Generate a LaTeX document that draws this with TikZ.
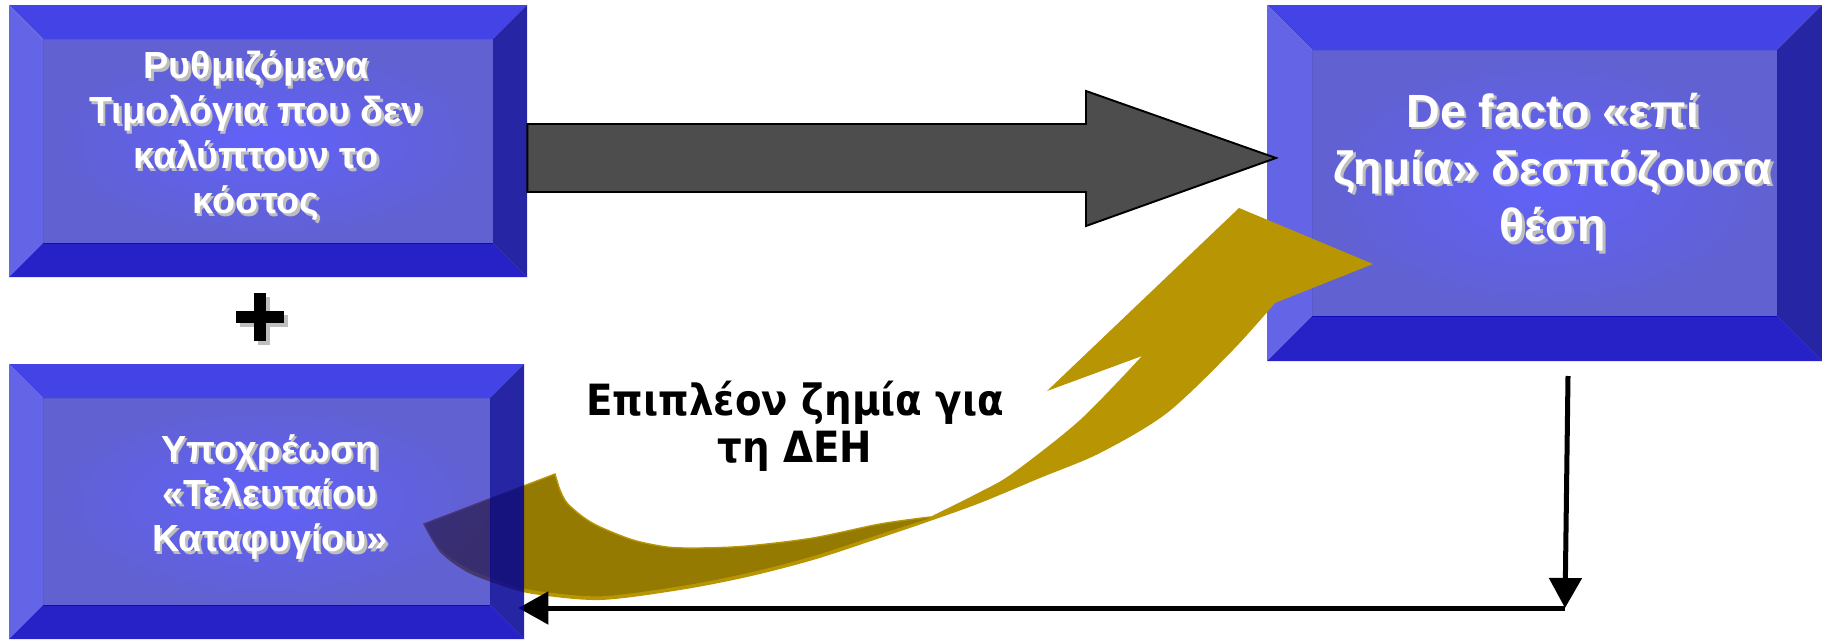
\documentclass[tikz,border=0pt]{standalone}
\usepackage{fontspec}
\setmainfont{Liberation Sans}
\newfontfamily\lossfont{DejaVu Sans Condensed}
\usetikzlibrary{arrows.meta}
\usetikzlibrary{calc}
\usetikzlibrary{fit}

\definecolor{bevtop}{RGB}{68,68,230}
\definecolor{bevleft}{RGB}{100,100,230}
\definecolor{bevbottom}{RGB}{38,34,200}
\definecolor{bevright}{RGB}{0,0,149}
\definecolor{facein}{RGB}{0,0,247}
\definecolor{faceout}{RGB}{0,0,180}
\definecolor{goldlight}{RGB}{184,149,3}
\definecolor{golddark}{RGB}{148,122,0}
\definecolor{arrowgray}{RGB}{77,77,77}
\definecolor{shadowgray}{RGB}{190,190,190}

\tikzset{
  labeltext/.style={text=white, align=center, inner sep=0pt},
  labelshadow/.style={text=shadowgray, align=center, inner sep=0pt},
  smallbox/.style={font=\bfseries\fontsize{21.5}{25.6}\selectfont},
  largebox/.style={font=\bfseries\fontsize{26.5}{32.6}\selectfont},
  bigarrow/.style={fill=arrowgray, draw=black, line width=1.1pt, line join=miter},
  flowline/.style={draw=black, line width=2.85pt, -{Triangle[length=0.6cm, width=0.64cm]}},
}

% bevelled box: name, x1, y1, x2, y2, bevel
\newcommand{\bevelbox}[6]{%
  \fill[bevtop] (#2,#3) -- (#4,#3) -- (#4-#6,#3+#6) -- (#2+#6,#3+#6) -- cycle;
  \fill[bevleft] (#2,#3) -- (#2+#6,#3+#6) -- (#2+#6,#5-#6) -- (#2,#5) -- cycle;
  \fill[bevbottom] (#2,#5) -- (#2+#6,#5-#6) -- (#4-#6,#5-#6) -- (#4,#5) -- cycle;
  \fill[bevright, fill opacity=0.85] (#4,#3) -- (#4,#5) -- (#4-#6,#5-#6) -- (#4-#6,#3+#6) -- cycle;
  \shade[fill opacity=0.62, inner color=facein, outer color=faceout]
    (#2+#6,#3+#6) rectangle (#4-#6,#5-#6);
  \node[fit={(#2,#3) (#4,#5)}, inner sep=0pt] (#1) {};
}

% white text with grey shadow: name, position, size style, text
\newcommand{\shadowlabel}[4]{%
  \node[labelshadow, #3] at ($#2+(2.5,2.5)$) {#4};
  \node[labeltext, #3] (#1) at #2 {#4};
}

\begin{document}
\begin{tikzpicture}[x=0.02cm, y=-0.02cm]
  \useasboundingbox (0,0) rectangle (1822,639);

  \bevelbox{tariffs}{9}{5}{527}{277}{34}
  \bevelbox{dominance}{1267}{5}{1822}{361}{45}

  % big grey arrow
  \coordinate (shafttop) at (0,124);
  \coordinate (shaftbot) at (0,192);
  \coordinate (gtip) at (1276,158);
  \draw[bigarrow] (tariffs.east |- shafttop) -- (1086,124) -- (1086,91) -- (gtip)
    -- (1086,226) -- (1086,192) -- (tariffs.east |- shaftbot) -- cycle;

  % plus
  \coordinate (plus) at (260,317);
  \fill[shadowgray] ($(plus)+(-6+4,-24+4)$) rectangle ($(plus)+(6+4,24+4)$);
  \fill[shadowgray] ($(plus)+(-24+4,-6+4)$) rectangle ($(plus)+(24+4,6+4)$);
  \fill[black] ($(plus)+(-6,-24)$) rectangle ($(plus)+(6,24)$);
  \fill[black] ($(plus)+(-24,-6)$) rectangle ($(plus)+(24,6)$);

  % curved gold arrow
  \fill[goldlight] (424,524) -- (555,474)
    -- plot[smooth] coordinates {(555,474) (560,490) (567,503) (583,517) (600,527) (633,540) (667,547) (700,548) (747,546) (813,538) (880,524) (930,517)}
    -- plot[smooth] coordinates {(930,517) (980,492) (1013,473) (1080,420) (1142,356)}
    -- (1047,391) -- (1239,208) -- (1373,264) -- (1275,303)
    -- plot[smooth] coordinates {(1275,303) (1233,350) (1167,413) (1100,453) (1040,478) (980,503) (930,521) (880,538) (813,560) (747,577) (680,590) (600,600) (533,594) (500,585) (467,572) (440,552) (424,524)}
    -- cycle;
  \filldraw[fill=golddark, draw=goldlight, line width=0.8pt] (424,524) -- (555,474)
    -- plot[smooth] coordinates {(555,474) (560,490) (567,503) (583,517) (600,527) (633,540) (667,547) (700,548) (747,546) (813,538) (880,524) (930,517)}
    -- plot[smooth] coordinates {(930,519) (880,535) (813,557) (747,574) (680,587) (600,597) (533,591) (500,582) (467,569) (440,550) (424,524)}
    -- cycle;

  % black return path
  \coordinate (drop) at (1568,376);
  \coordinate (corner) at (1565,608);
  \draw[flowline] (drop) -- (corner);
  \draw[flowline] (corner) -- ($(tariffs.east |- corner)+(-9,0)$);

  \bevelbox{obligation}{9}{364}{524}{639}{34}

  \shadowlabel{tariffs-text}{(256,136)}{smallbox}{Ρυθμιζόμενα\\Τιμολόγια που δεν\\καλύπτουν το\\κόστος}
  \shadowlabel{obligation-text}{(270,497)}{smallbox}{Υποχρέωση\\«Τελευταίου\\Καταφυγίου»}
  \shadowlabel{dominance-text}{(1553,172)}{largebox}{De facto «επί\\ζημία» δεσπόζουσα\\θέση}

  \node[align=center, inner sep=0pt, font=\lossfont\bfseries\fontsize{24.5}{26.5}\selectfont] (loss) at (795,426) {Επιπλέον ζημία για\\τη ΔΕΗ};
\end{tikzpicture}
\end{document}
